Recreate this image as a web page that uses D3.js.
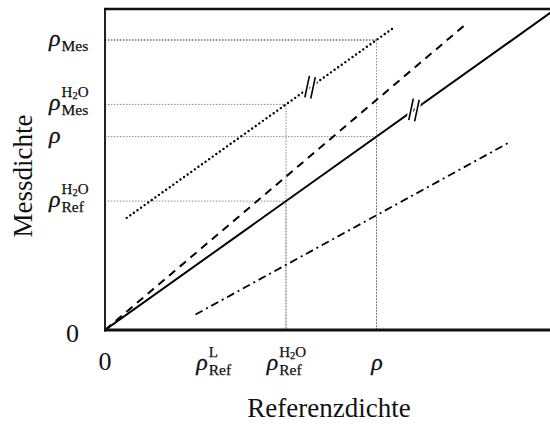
<!DOCTYPE html>
<html>
<head>
<meta charset="utf-8">
<script src="https://cdn.jsdelivr.net/npm/d3@7"></script>
<style>
  html, body { margin: 0; padding: 0; background: #fff; }
  svg { display: block; }
  text { font-family: "Liberation Serif", "DejaVu Serif", serif; fill: #111; }
</style>
</head>
<body>
<svg id="chart" width="550" height="425"></svg>
<script>
// Reference density (x) against measured density (y), in g/cm³
const rhoRefL = 0.6;      // reference density of the light liquid
const rhoRefH2O = 1.0;    // reference density of water
const rho = 1.5;          // true density of the sample
const rhoMesH2O = 1.75;   // measured density of water
const rhoMes = 2.25;      // measured density of the sample

// Tick positions and their labels: [base, subscript, superscript]
const xTickVals = [0, rhoRefL, rhoRefH2O, rho];
const xTickLabels = [["0", "", ""], ["ρ", "Ref", "L"], ["ρ", "Ref", "H2O"], ["ρ", "", ""]];
const yTickVals = [0, rhoRefH2O, rho, rhoMesH2O, rhoMes];
const yTickLabels = [["0", "", ""], ["ρ", "Ref", "H2O"], ["ρ", "", ""], ["ρ", "Mes", "H2O"], ["ρ", "Mes", ""]];

// Characteristic lines (end points)
const idealLine = [[0, 0], [2.5, 2.5]];                 // measured = reference
const waterCalLine = [[0.12, 0.87], [1.6, 2.35]];       // offset by the water calibration
const rawLine = [[0, 0], [2.0, 2.38]];                  // uncorrected measurement
const lightCalLine = [[0.5, 0.12], [2.24, 1.46]];       // light-liquid calibration

// Break marks on the lines (x positions)
const breakOnWaterCal = 1.133;
const breakOnIdeal = 1.707;

// Guide points: dotted lines from the axes to these points
const guidePoints = [
  [rhoRefH2O, rhoRefH2O],
  [rho, rho],
  [rhoRefH2O, rhoMesH2O],
  [rho, rhoMes]
];

const svg = d3.select("#chart");
const x = d3.scaleLinear().domain([0, 2.5]).range([105, 557.5]);
const y = d3.scaleLinear().domain([0, 2.49]).range([330, 9]);

svg.append("defs").append("clipPath").attr("id", "plot")
  .append("rect").attr("x", x(0)).attr("y", y(2.49)).attr("width", x(2.5) - x(0)).attr("height", y(0) - y(2.49));

const plot = svg.append("g").attr("clip-path", "url(#plot)");

// Guide lines
guidePoints.forEach(([gx, gy]) => {
  const strong = gy === rhoMes;
  plot.append("line")
    .attr("x1", x(0)).attr("x2", x(gx)).attr("y1", y(gy)).attr("y2", y(gy))
    .attr("stroke", strong ? "#222" : "#888").attr("stroke-width", strong ? 1.1 : 1)
    .attr("stroke-dasharray", "1.5,1.5");
  plot.append("line")
    .attr("x1", x(gx)).attr("x2", x(gx)).attr("y1", y(gy)).attr("y2", y(0))
    .attr("stroke", "#888").attr("stroke-width", 1)
    .attr("stroke-dasharray", "1.5,1.5");
});

const line = d3.line().x(d => x(d[0])).y(d => y(d[1]));

plot.append("path").datum(idealLine).attr("d", line)
  .attr("fill", "none").attr("stroke", "#000").attr("stroke-width", 2);
plot.append("path").datum(rawLine).attr("d", line)
  .attr("fill", "none").attr("stroke", "#000").attr("stroke-width", 2)
  .attr("stroke-dasharray", "8,6");
plot.append("path").datum(waterCalLine).attr("d", line)
  .attr("fill", "none").attr("stroke", "#000").attr("stroke-width", 2.4)
  .attr("stroke-linecap", "round").attr("stroke-dasharray", "0,4.4");
plot.append("path").datum(lightCalLine).attr("d", line)
  .attr("fill", "none").attr("stroke", "#000").attr("stroke-width", 1.8)
  .attr("stroke-dasharray", "8,4,2,4");

// Break marks: two short near-vertical strokes across a line
function breakMark(bx, fn) {
  const cx = x(bx), cy = y(fn(bx));
  const g = plot.append("g").attr("transform", `translate(${cx},${cy}) rotate(12)`);
  [-3, 3].forEach(dx => {
    g.append("rect").attr("x", dx - 2.5).attr("y", -11).attr("width", 5).attr("height", 22).attr("fill", "#fff");
  });
  [-3, 3].forEach(dx => {
    g.append("line").attr("x1", dx).attr("x2", dx).attr("y1", -11).attr("y2", 11)
      .attr("stroke", "#000").attr("stroke-width", 1.6);
  });
}
const lerp = (pts) => (v) => pts[0][1] + (v - pts[0][0]) * (pts[1][1] - pts[0][1]) / (pts[1][0] - pts[0][0]);
breakMark(breakOnWaterCal, lerp(waterCalLine));
breakMark(breakOnIdeal, lerp(idealLine));

// Frame
svg.append("line").attr("x1", x(0)).attr("x2", x(0)).attr("y1", y(2.49) - 1).attr("y2", y(0) + 1.5)
  .attr("stroke", "#222").attr("stroke-width", 2);
svg.append("line").attr("x1", x(0) - 1).attr("x2", 550).attr("y1", y(2.49)).attr("y2", y(2.49))
  .attr("stroke", "#111").attr("stroke-width", 2.4);
svg.append("line").attr("x1", x(0) - 1).attr("x2", 550).attr("y1", y(0)).attr("y2", y(0))
  .attr("stroke", "#111").attr("stroke-width", 2.8);

// Write a chemical formula such as H2O with its digits lowered
function formula(textSel, str) {
  const parts = str.match(/[0-9]+|[^0-9]+/g);
  let shifted = 0;
  parts.forEach(p => {
    const digit = /^[0-9]+$/.test(p);
    const dy = digit ? 2 : -shifted;
    shifted = digit ? 2 : 0;
    textSel.append("tspan").text(p)
      .attr("font-size", digit ? 10.5 : 15)
      .attr("dy", dy);
  });
}

// Math-style label: italic base with optional sub- and superscript
function mathLabel(parent, lab) {
  const [base, sub, sup] = lab;
  const g = parent.append("g");
  const isNum = base === "0";
  const b = g.append("text").text(base)
    .attr("font-size", isNum ? 26 : 24)
    .attr("font-style", isNum ? "normal" : "italic")
    .attr("stroke", "#111").attr("stroke-width", isNum ? 0 : 0.3);
  const w = b.node().getComputedTextLength();
  if (sup) {
    const t = g.append("text").attr("x", w + 1).attr("y", -13).attr("stroke", "#111").attr("stroke-width", 0.25);
    formula(t, sup);
  }
  if (sub) {
    g.append("text").text(sub).attr("x", w + 1).attr("y", 5).attr("font-size", 15.5)
      .attr("stroke", "#111").attr("stroke-width", 0.25);
  }
  return g;
}

// X tick labels, centred under their positions
xTickVals.forEach((v, i) => {
  const g = mathLabel(svg, xTickLabels[i]);
  const bb = g.node().getBBox();
  g.attr("transform", `translate(${x(v) - bb.width / 2 - bb.x},370)`);
});

// Y tick labels
yTickVals.forEach((v, i) => {
  const g = mathLabel(svg, yTickLabels[i]);
  if (v === 0) {
    const bb = g.node().getBBox();
    g.attr("transform", `translate(${79 - bb.width},${y(v) + 12})`);
  } else {
    g.attr("transform", `translate(49,${y(v) + 6})`);
  }
});

// Axis titles
svg.append("text").text("Referenzdichte")
  .attr("x", 329).attr("y", 417).attr("text-anchor", "middle").attr("font-size", 27);
svg.append("text").text("Messdichte")
  .attr("transform", `translate(32,176) rotate(-90)`)
  .attr("text-anchor", "middle").attr("font-size", 27);
</script>
</body>
</html>
